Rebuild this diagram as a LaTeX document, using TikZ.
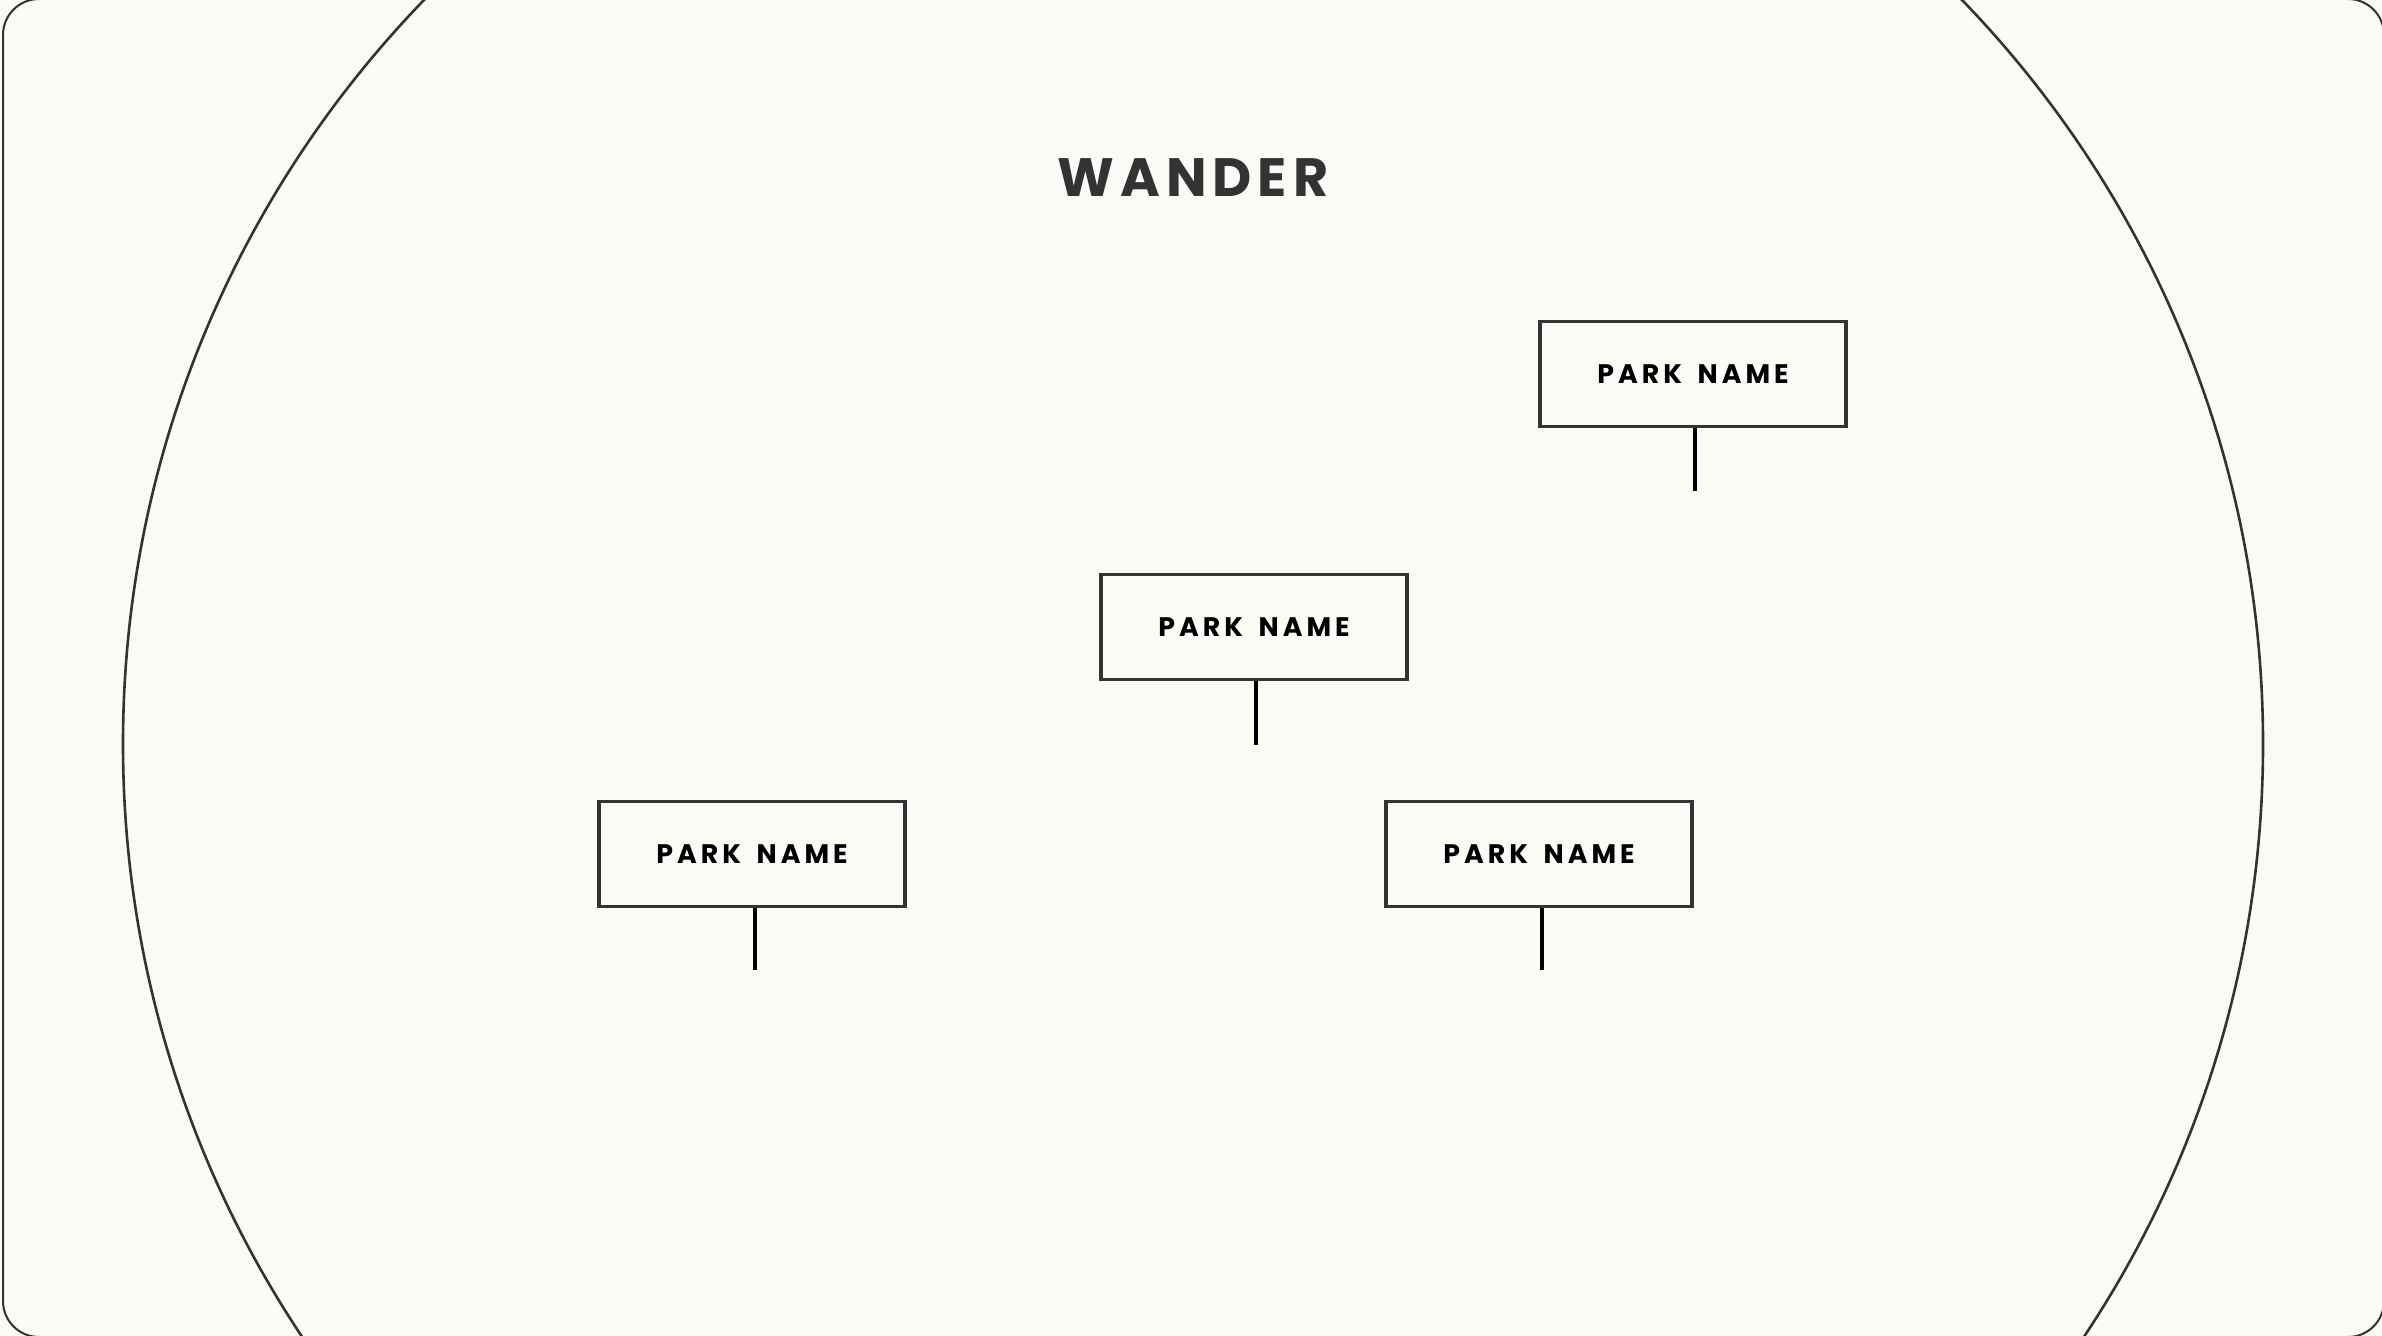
\documentclass[tikz,border=0pt]{standalone}
\usepackage{fontspec}
\newfontfamily\parkfont[LetterSpace=15]{Poppins Bold}
\newfontfamily\titlefont[LetterSpace=11]{Poppins Bold}
\definecolor{bgc}{RGB}{251,250,246}
\definecolor{ink}{RGB}{51,51,51}
\tikzset{
  parkbox/.style={draw=ink, line width=1.6pt, fill=bgc, minimum width=153pt, minimum height=52.5pt, inner sep=0pt, font=\parkfont\fontsize{13.4pt}{13.4pt}\selectfont, text=black},
  stem/.style={draw=black, line width=1.7pt},
}
\newcommand{\pname}{PARK\hspace{3pt} NAME}
\begin{document}
\begin{tikzpicture}[x=0.5pt,y=-0.5pt]
\useasboundingbox (0,0) rectangle (2382,1336);
\fill[bgc] (0,0) rectangle (2382,1336);
\begin{scope}
\clip (0,0) rectangle (2382,1336);
\draw[ink, line width=1pt, rounded corners=18pt] (3,-1) rectangle (2384,1337);
\draw[ink, line width=1.3pt] (1193,744) circle[radius=535pt];
\end{scope}
\node[font=\titlefont\fontsize{27pt}{27pt}\selectfont, text=ink] (title) at (1193,178) {WANDER};
\node[parkbox] (p1) at (1693,374) {\pname};
\node[parkbox] (p2) at (1254,627) {\pname};
\node[parkbox] (p3) at (752,854) {\pname};
\node[parkbox] (p4) at (1539,854) {\pname};
\coordinate (e1) at (1695,491);
\coordinate (e2) at (1256,745);
\coordinate (e3) at (755,970);
\coordinate (e4) at (1542,970);
\draw[stem] (p1.south -| e1) -- (e1);
\draw[stem] (p2.south -| e2) -- (e2);
\draw[stem] (p3.south -| e3) -- (e3);
\draw[stem] (p4.south -| e4) -- (e4);
\end{tikzpicture}
\end{document}
